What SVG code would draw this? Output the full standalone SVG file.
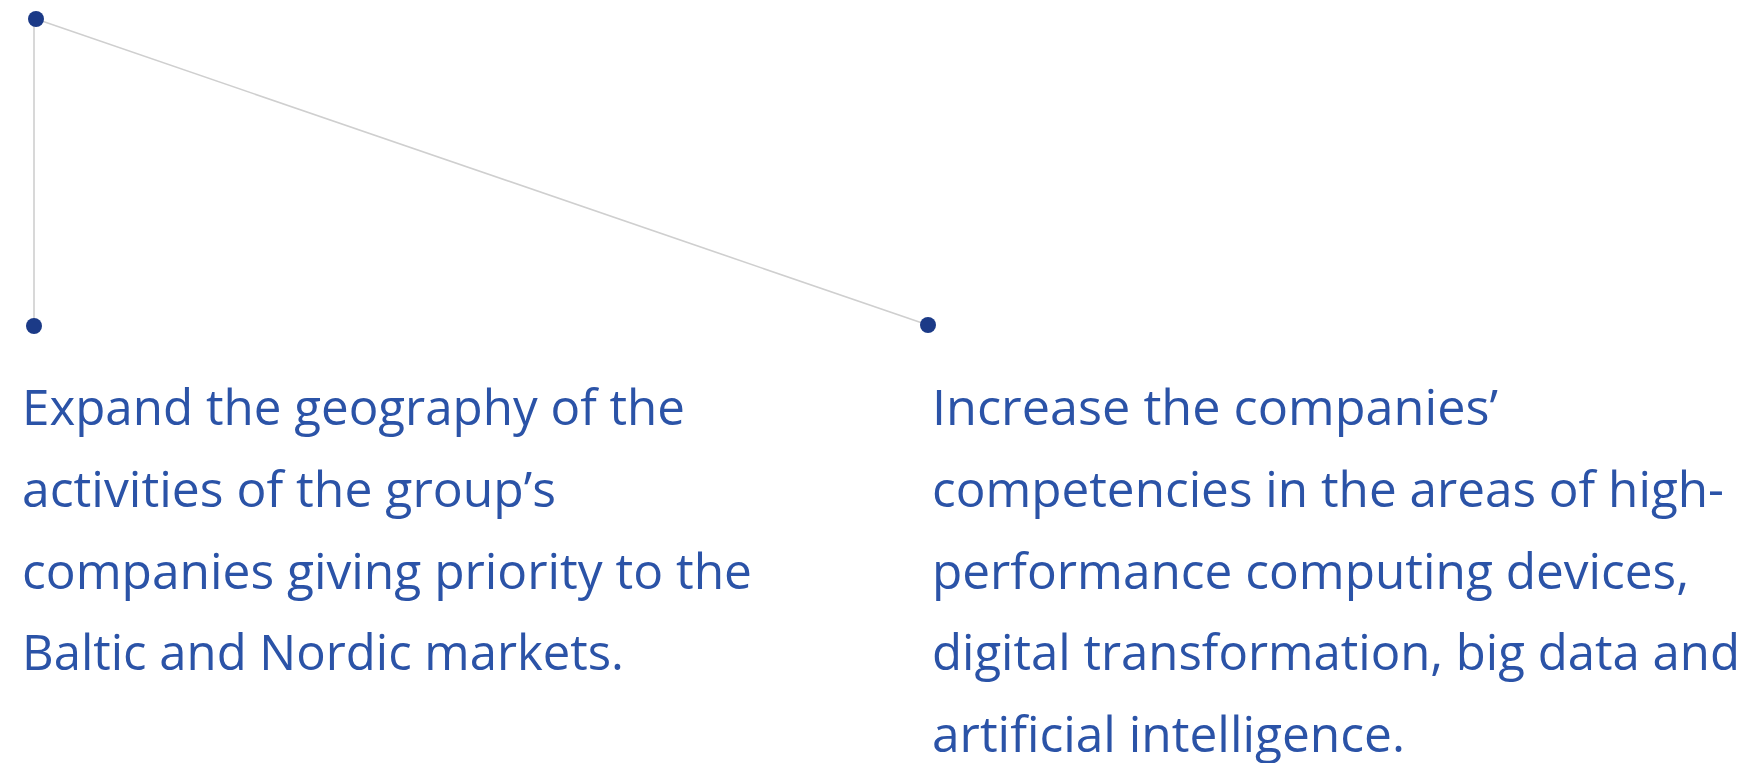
<svg xmlns="http://www.w3.org/2000/svg" width="1755" height="763" viewBox="0 0 1755 763">
<style>
.dot{fill:#1b3a87}
.conn{stroke:#cfcfcf;stroke-width:1.6;fill:none}
.t{font-family:"Open Sans","Liberation Sans",sans-serif;font-size:49px;fill:#2b53a7}
</style>
<rect width="1755" height="763" fill="#ffffff"/>
<g id="connectors">
<line class="conn" x1="34" y1="19" x2="34" y2="326"/>
<line class="conn" x1="36" y1="19" x2="928" y2="325"/>
</g>
<g id="node-top"><circle class="dot" cx="36" cy="19" r="8"/></g>
<g id="node-left">
<circle class="dot" cx="34" cy="326" r="8"/>
<text class="t" x="22" y="425" textLength="663" lengthAdjust="spacingAndGlyphs">Expand the geography of the</text>
<text class="t" x="22" y="507" textLength="534" lengthAdjust="spacingAndGlyphs">activities of the group’s</text>
<text class="t" x="22" y="589" textLength="730" lengthAdjust="spacingAndGlyphs">companies giving priority to the</text>
<text class="t" x="22" y="670" textLength="602" lengthAdjust="spacingAndGlyphs">Baltic and Nordic markets.</text>
</g>
<g id="node-right">
<circle class="dot" cx="928" cy="325" r="8"/>
<text class="t" x="932" y="425" textLength="566" lengthAdjust="spacingAndGlyphs">Increase the companies’</text>
<text class="t" x="932" y="507" textLength="792" lengthAdjust="spacingAndGlyphs">competencies in the areas of high-</text>
<text class="t" x="932" y="589" textLength="757" lengthAdjust="spacingAndGlyphs">performance computing devices,</text>
<text class="t" x="932" y="670" textLength="808" lengthAdjust="spacingAndGlyphs">digital transformation, big data and</text>
<text class="t" x="932" y="752" textLength="473" lengthAdjust="spacingAndGlyphs">artificial intelligence.</text>
</g>
</svg>
